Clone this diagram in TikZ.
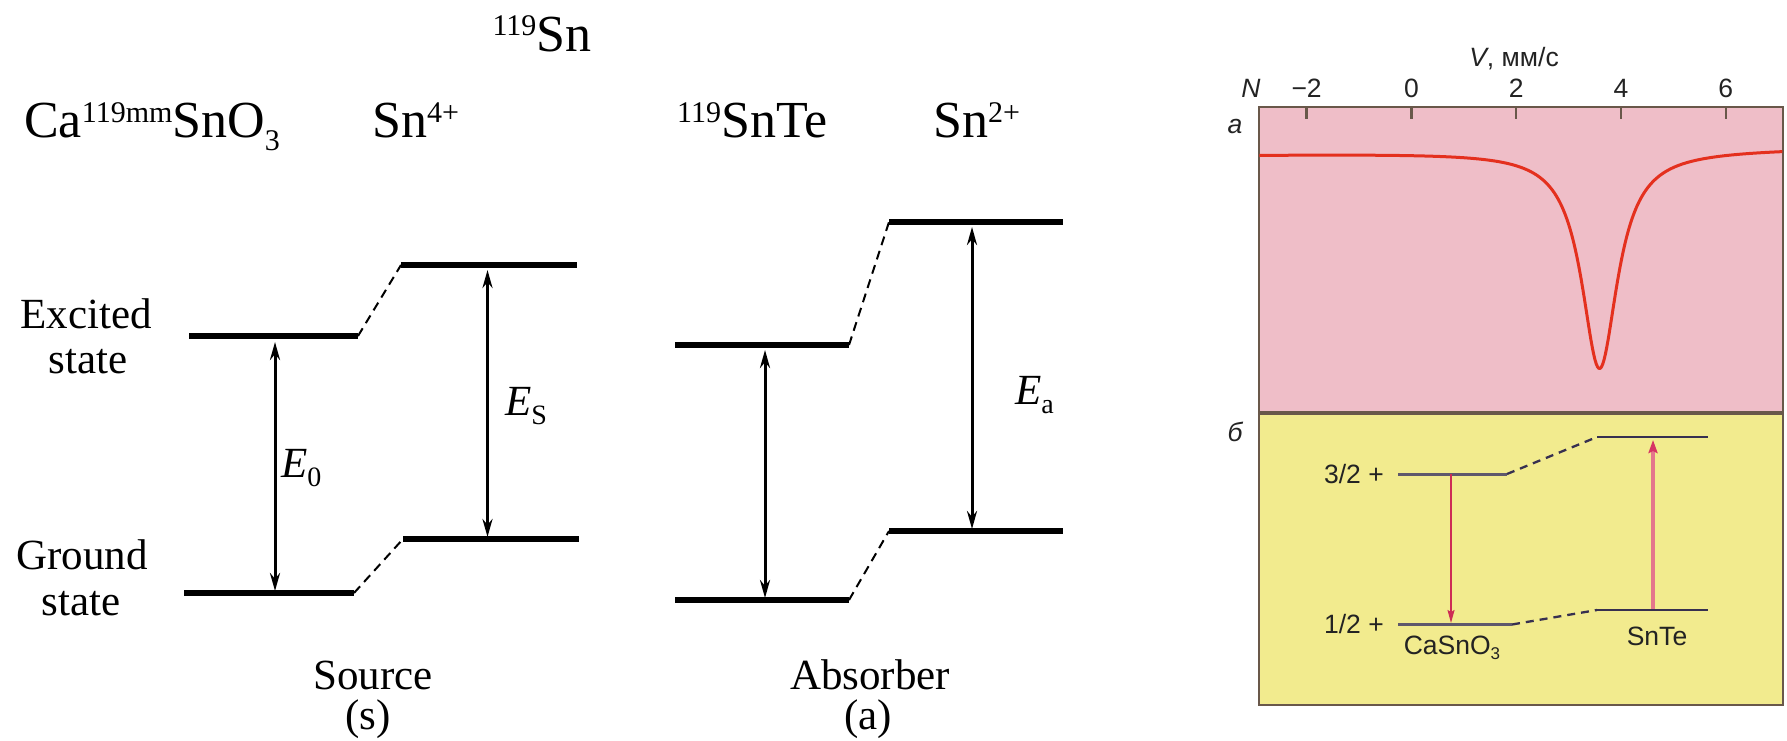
\documentclass[tikz,border=0pt]{standalone}
\usepackage{fontspec}
\setmainfont{Liberation Serif}
\newfontfamily\sansf{Liberation Sans}
\usetikzlibrary{arrows.meta,calc}
\definecolor{pinkc}{RGB}{239,190,200}
\definecolor{yellc}{RGB}{242,235,142}
\definecolor{framec}{RGB}{105,88,74}
\definecolor{levc}{RGB}{95,88,108}
\definecolor{levd}{RGB}{55,48,80}
\definecolor{curvec}{RGB}{228,48,30}
\definecolor{arrd}{RGB}{205,45,85}
\definecolor{arru}{RGB}{228,118,140}
\definecolor{arruh}{RGB}{214,52,100}
\definecolor{txtc}{RGB}{35,35,35}
\newcommand\supx[1]{\raisebox{16pt}{\fontsize{30}{30}\selectfont #1}}
\newcommand\subx[1]{\raisebox{-13pt}{\fontsize{30}{30}\selectfont #1}}
\newcommand\esub[1]{\raisebox{-9pt}{\fontsize{28}{28}\selectfont #1}}
\tikzset{
  level/.style={line width=5.2pt},
  conn/.style={line width=2pt, dash pattern=on 9pt off 6pt},
  trans/.style={line width=3pt, {Stealth[length=18pt,width=10pt]}-{Stealth[length=18pt,width=10pt]}},
  lbl/.style={font=\fontsize{43}{45}\selectfont, inner sep=0pt},
  ttl/.style={font=\fontsize{52}{52}\selectfont, inner sep=0pt},
  rtxt/.style={font=\sansf\fontsize{26.5}{26.5}\selectfont, text=txtc, inner sep=0pt},
  frame/.style={draw=framec, line width=2.5pt},
  slev/.style={draw=levc, line width=3pt},
  tlev/.style={draw=levd, line width=2pt},
  sconn/.style={draw=levd, line width=2.3pt, dash pattern=on 8pt off 6pt},
}
\begin{document}
\begin{tikzpicture}[x=1pt,y=-1pt]
\useasboundingbox (0,0) rectangle (1787,741);
% ---------- titles ----------
\node[ttl, anchor=base] (t119) at (542,52) {\supx{119}Sn};
\node[ttl, anchor=base west] (tca) at (24,138) {Ca\supx{119mm}SnO\subx{3}};
\node[ttl, anchor=base west] (tsn4) at (372,138) {Sn\supx{4+}};
\node[ttl, anchor=base west] (tsnte) at (677,138) {\supx{119}SnTe};
\node[ttl, anchor=base west] (tsn2) at (933,138) {Sn\supx{2+}};
% ---------- side labels ----------
\node[lbl, anchor=base] (exc1) at (86,328) {Excited};
\node[lbl, anchor=base] (exc2) at (88,373) {state};
\node[lbl, anchor=base] (gnd1) at (82,569) {Ground};
\node[lbl, anchor=base] (gnd2) at (81,615) {state};
\node[lbl, anchor=base] (src) at (373,689) {Source};
\node[lbl, anchor=base] (srcs) at (368,729) {(s)};
\node[lbl, anchor=base] (abs) at (870,689) {Absorber};
\node[lbl, anchor=base] (absa) at (868,729) {(a)};
% ---------- level coordinates ----------
\coordinate (s1a) at (189,336); \coordinate (s1b) at (358,336);
\coordinate (s0a) at (184,593); \coordinate (s0b) at (354,593);
\coordinate (f1a) at (401,265); \coordinate (f1b) at (577,265);
\coordinate (f0a) at (403,539); \coordinate (f0b) at (579,539);
\coordinate (a1a) at (675,345); \coordinate (a1b) at (849,345);
\coordinate (a0a) at (675,600); \coordinate (a0b) at (849,600);
\coordinate (b1a) at (889,222); \coordinate (b1b) at (1063,222);
\coordinate (b0a) at (889,531); \coordinate (b0b) at (1063,531);
\foreach \p in {s1,s0,f1,f0,a1,a0,b1,b0}
  \draw[level] (\p a) -- (\p b);
\draw[conn] (s1b) -- (f1a);
\draw[conn] (s0b) -- (f0a);
\draw[conn] (a1b) -- (b1a);
\draw[conn] (a0b) -- (b0a);
% ---------- transitions ----------
\draw[trans, shorten <=2pt, shorten >=6pt] (275,593) coordinate (e0b) -- (275,336) coordinate (e0t);
\draw[trans, shorten <=2pt, shorten >=5pt] (487.5,539) coordinate (esb) -- (487.5,265) coordinate (est);
\draw[trans, shorten <=2pt, shorten >=5pt] (765,600) coordinate (xb) -- (765,345) coordinate (xt);
\draw[trans, shorten <=2pt, shorten >=5pt] (972,531) coordinate (eab) -- (972,222) coordinate (eat);
\node[lbl, anchor=west] (E0) at (281,468) {\textit{E}\esub{0}};
\node[lbl, anchor=west] (ES) at (505,406) {\textit{E}\esub{S}};
\node[lbl, anchor=west] (Ea) at (1015,395) {\textit{E}\esub{a}};
% ---------- right panel ----------
\fill[pinkc] (1259,107) rectangle (1783,413);
\fill[yellc] (1259,413) rectangle (1783,705);
\draw[frame] (1259,107) rectangle (1783,705);
\draw[draw=framec, line width=4pt] (1259,413) -- (1783,413);
\foreach \v/\t/\n in {-2/−2/1, 0/0/2, 2/2/3, 4/4/4, 6/6/5}{
  \draw[frame] ({1411.4+52.4*\v},107) -- ++(0,12);
  \node[rtxt, anchor=base] (tk\n) at ({1411.4+52.4*\v},98) {\t};
}
\node[rtxt, anchor=base] (Nlab) at (1251,98) {\itshape N};
\node[rtxt, anchor=base] (Vlab) at (1514,67) {\itshape V\upshape, мм/с};
\node[rtxt, anchor=base] (pa) at (1235,134) {\itshape а};
\node[rtxt, anchor=base] (pb) at (1235,441) {\itshape б};
\draw[curvec, line width=3pt, line join=round] plot[domain=-2.9:7.08, samples=400]
  ({1411.4+52.4*\x}, {154.5-0.6*(\x+2.908)+218/(1+((\x-3.59)/0.42)^2)});
% levels
\coordinate (c32a) at (1398,474); \coordinate (c32b) at (1507,474);
\coordinate (t32a) at (1597,437); \coordinate (t32b) at (1708,437);
\coordinate (c12a) at (1398,624.5); \coordinate (c12b) at (1512,624.5);
\coordinate (t12a) at (1597,610); \coordinate (t12b) at (1708,610);
\draw[slev] (c32a) -- (c32b);
\draw[slev] (c12a) -- (c12b);
\draw[tlev] (t32a) -- (t32b);
\draw[tlev] (t12a) -- (t12b);
\draw[sconn] (c32b) -- (t32a);
\draw[sconn] (c12b) -- (t12a);
\coordinate (dA) at (1451,474); \coordinate (dB) at (1451,623);
\coordinate (uA) at (1653,609); \coordinate (uB) at (1653,440);
\draw[arrd, line width=1.7pt, -{Stealth[length=13pt,width=7pt,inset=2pt]}] (dA) -- (dB);
\draw[arru, line width=3.5pt, -{Stealth[length=13pt,width=9pt,inset=2pt,color=arruh]}] (uA) -- (uB);
\node[rtxt, anchor=east] (j32) at (1384,474) {3/2 +};
\node[rtxt, anchor=east] (j12) at (1384,624.5) {1/2 +};
\node[rtxt, anchor=base] (lcas) at (1452,654) {CaSnO\raisebox{-5pt}{\fontsize{17}{17}\selectfont 3}};
\node[rtxt, anchor=base] (lsnte) at (1657,645) {SnTe};
\end{tikzpicture}
\end{document}
